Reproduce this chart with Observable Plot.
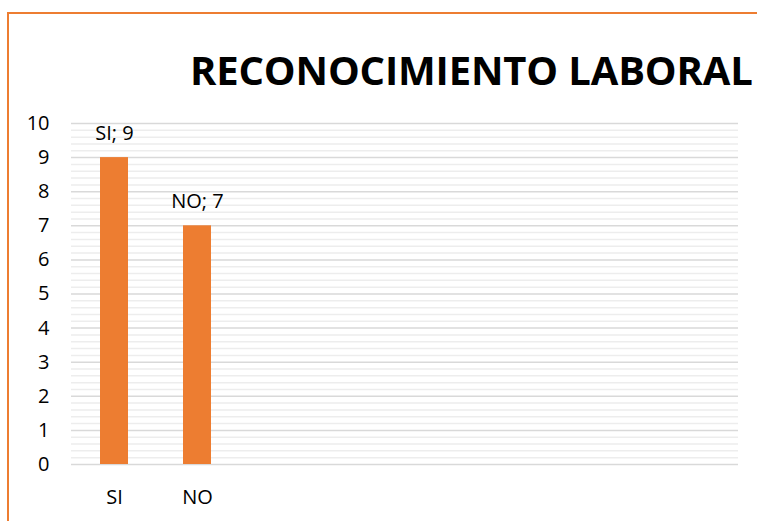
<!DOCTYPE html>
<html>
<head>
<meta charset="utf-8">
<script src="https://cdn.jsdelivr.net/npm/d3@7"></script>
<script src="https://cdn.jsdelivr.net/npm/@observablehq/plot@0.6"></script>
<style>
  html, body { margin: 0; padding: 0; background: #fff; overflow: hidden; }
  #wrap { position: relative; width: 757px; height: 521px; overflow: hidden; font-family: "Open Sans", sans-serif; }
  #frame { position: absolute; left: 7px; top: 12px; width: 800px; height: 600px; border: 2px solid #ED7D31; box-sizing: border-box; }
  #title { position: absolute; left: 190px; top: 46px; font-family: "Open Sans", sans-serif; font-weight: 700; font-size: 40px; line-height: 1.2; color: #000; white-space: nowrap; letter-spacing: -0.15px; }
  #chart { position: absolute; left: 0; top: 0; }
</style>
</head>
<body>
<div id="wrap">
  <div id="frame"></div>
  <div id="title">RECONOCIMIENTO LABORAL</div>
  <div id="chart"></div>
</div>
<script>
const categories = ["SI", "NO"];
const values = [9, 7];
const emptySlots = ["c3", "c4", "c5", "c6", "c7", "c8"];
const yTicks = [0, 1, 2, 3, 4, 5, 6, 7, 8, 9, 10];

const data = categories.map((c, i) => ({cat: c, val: values[i], label: `${c}; ${values[i]}`}));
const minorTicks = d3.range(0, 50).map(i => i / 5).filter(v => !Number.isInteger(v));

const chart = Plot.plot({
  width: 757,
  height: 521,
  marginTop: 123,
  marginBottom: 57,
  marginLeft: 71,
  marginRight: 19,
  style: {fontFamily: "Open Sans, sans-serif", fontSize: "20px", color: "#000", background: "transparent"},
  x: {domain: [...categories, ...emptySlots], paddingInner: 0.66, paddingOuter: 0.33, align: 0.5},
  y: {domain: [0, 10]},
  marks: [
    Plot.ruleY(minorTicks, {stroke: "#ededed", strokeWidth: 1.5}),
    Plot.ruleY(yTicks, {stroke: "#d9d9d9", strokeWidth: 1.5}),
    Plot.barY(data, {x: "cat", y: "val", fill: "#ED7D31"}),
    Plot.text(data, {x: "cat", y: "val", text: "label", dy: -24, fontSize: 20, fill: "#000"}),
    Plot.axisY({ticks: yTicks, label: null, tickSize: 0, tickPadding: 22, fontSize: 20, fill: "#000"}),
    Plot.axisX({label: null, tickFormat: d => categories.includes(d) ? d : "", tickSize: 0, tickPadding: 25, fontSize: 20, fill: "#000"})
  ]
});
document.getElementById("chart").appendChild(chart);
</script>
</body>
</html>
